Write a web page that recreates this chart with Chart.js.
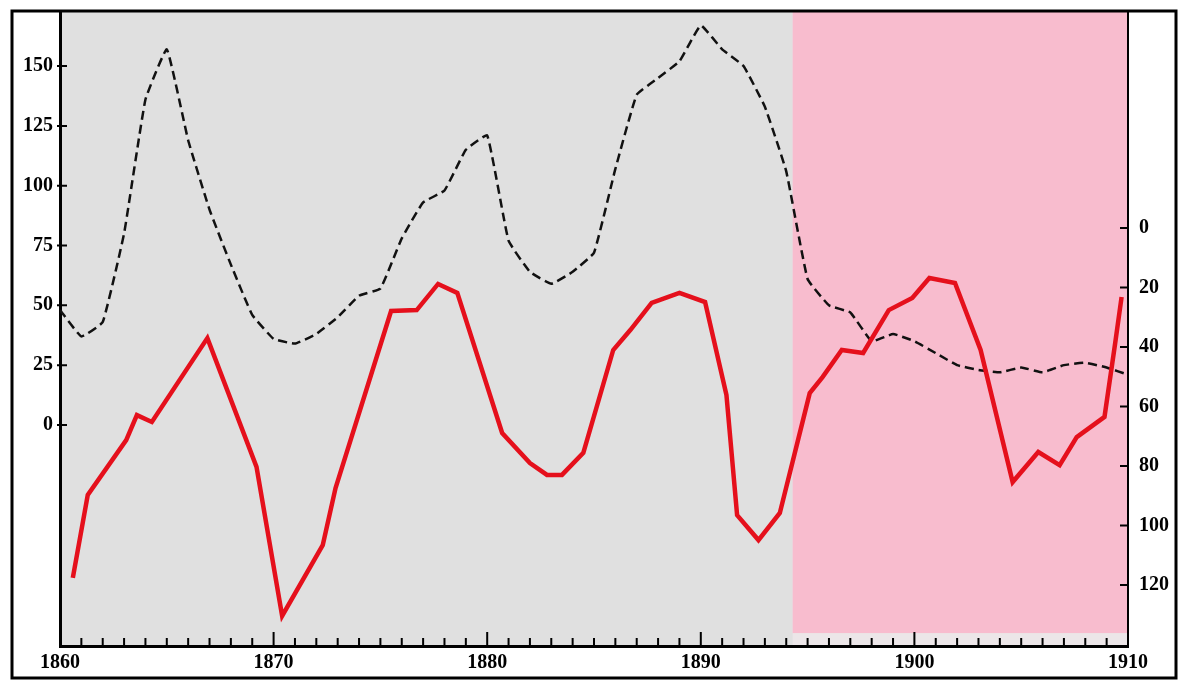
<!DOCTYPE html>
<html>
<head>
<meta charset="utf-8">
<script src="https://cdn.jsdelivr.net/npm/chart.js@4.4.0/dist/chart.umd.min.js"></script>
<style>
  html, body { margin: 0; padding: 0; background: #fff; }
  #wrap { width: 1192px; height: 694px; position: relative; }
</style>
</head>
<body>
<div id="wrap"><canvas id="chart" width="1192" height="694"></canvas></div>
<script>
// dashed black series, left axis, one point per year
const blackYears = [1860, 1861, 1862, 1863, 1864, 1865, 1866, 1867, 1868, 1869,
  1870, 1871, 1872, 1873, 1874, 1875, 1876, 1877, 1878, 1879,
  1880, 1881, 1882, 1883, 1884, 1885, 1886, 1887, 1888, 1889,
  1890, 1891, 1892, 1893, 1894, 1895, 1896, 1897, 1898, 1899,
  1900, 1901, 1902, 1903, 1904, 1905, 1906, 1907, 1908, 1909, 1910];
const blackValues = [48, 37, 43, 80, 136, 157, 119, 90, 67, 46,
  36, 34, 38, 45, 54, 57, 78, 93, 98, 115,
  121, 77, 64, 59, 64, 72, 107, 138, 145, 152,
  167, 157, 150, 133, 106, 61, 50, 47, 35, 38,
  35, 30, 25, 23, 22, 24, 22, 25, 26, 24, 21];

// red series, right (inverted) axis, read at its corners
const redYears = [1860.6, 1861.3, 1863.1, 1863.6, 1864.3, 1866.9, 1869.2, 1870.4, 1872.3, 1872.9,
  1875.5, 1876.7, 1877.7, 1878.6, 1880.7, 1882.0, 1882.8, 1883.5, 1884.5, 1885.9,
  1886.7, 1887.7, 1889.0, 1890.2, 1891.2, 1891.7, 1892.7, 1893.7, 1895.1, 1895.7,
  1896.6, 1897.6, 1898.8, 1899.9, 1900.7, 1901.9, 1903.1, 1904.6, 1905.8, 1906.8,
  1907.6, 1908.9, 1909.4, 1909.7];
const redValues = [117.6, 89.7, 71.3, 62.9, 65.2, 37.0, 80.3, 130.4, 106.6, 87.4,
  27.9, 27.6, 18.8, 21.8, 68.9, 79.0, 83.0, 83.0, 75.6, 41.0,
  34.3, 25.2, 21.8, 24.9, 56.1, 96.5, 104.9, 95.8, 55.5, 50.1,
  41.0, 42.0, 27.6, 23.5, 16.8, 18.5, 41.0, 85.4, 75.3, 79.7,
  70.3, 63.5, 38.7, 23.2];

const leftTicks = [0, 25, 50, 75, 100, 125, 150];
const rightTicks = [0, 20, 40, 60, 80, 100, 120];
const xLabels = [1860, 1870, 1880, 1890, 1900, 1910];
const pinkFrom = 1894.3;

const tickFont = { family: "'Liberation Serif', 'DejaVu Serif', serif", size: 20, weight: "bold" };

// backgrounds, frame and inward tick marks
const decor = {
  id: "decor",
  beforeDraw(chart) {
    const c = chart.ctx, a = chart.chartArea, x = chart.scales.x, yl = chart.scales.yl;
    c.save();
    c.fillStyle = "#fff";
    c.fillRect(0, 0, chart.width, chart.height);
    c.fillStyle = "#e0e0e0";
    c.fillRect(a.left, a.top, a.right - a.left, a.bottom - a.top);
    const px = x.getPixelForValue(pinkFrom);
    c.fillStyle = "#ece6e8";
    c.fillRect(px, a.top, a.right - px, a.bottom - a.top);
    c.fillStyle = "#f8bcce";
    c.fillRect(px, a.top, a.right - px, yl.getPixelForValue(-87) - a.top);
    c.restore();
  },
  afterDraw(chart) {
    const c = chart.ctx, a = chart.chartArea;
    const x = chart.scales.x, yl = chart.scales.yl, yr = chart.scales.yr;
    c.save();
    c.strokeStyle = "#000";
    c.lineWidth = 3;
    c.strokeRect(12, 11, 1164, 667);
    c.lineWidth = 2;
    c.beginPath();
    for (let yr0 = 1860; yr0 <= 1910; yr0++) {
      const p = x.getPixelForValue(yr0);
      const len = yr0 % 10 === 0 ? 14 : 8;
      c.moveTo(p, a.bottom);
      c.lineTo(p, a.bottom - len);
    }
    leftTicks.forEach(v => {
      const p = yl.getPixelForValue(v);
      c.moveTo(a.left - 3, p);
      c.lineTo(a.left + 7, p);
    });
    rightTicks.forEach(v => {
      const p = yr.getPixelForValue(v);
      c.moveTo(a.right - 8, p);
      c.lineTo(a.right, p);
    });
    c.stroke();
    c.restore();
  }
};

// fixed widths and no label overhang padding
const fitY = w => s => { s.width = w; s.paddingTop = 0; s.paddingBottom = 0; };

new Chart(document.getElementById("chart"), {
  type: "line",
  data: {
    datasets: [
      {
        label: "red",
        data: redYears.map((y, i) => ({ x: y, y: redValues[i] })),
        yAxisID: "yr",
        borderColor: "#e5101c",
        borderWidth: 4.5,
        pointRadius: 0,
        tension: 0
      },
      {
        label: "black",
        data: blackYears.map((y, i) => ({ x: y, y: blackValues[i] })),
        yAxisID: "yl",
        borderColor: "#111",
        borderWidth: 2.5,
        borderDash: [9, 5],
        pointRadius: 0,
        tension: 0.1
      }
    ]
  },
  options: {
    responsive: false,
    animation: false,
    layout: { padding: { top: 12, left: 0, right: 0, bottom: 0 } },
    plugins: { legend: { display: false }, tooltip: { enabled: false } },
    scales: {
      x: {
        type: "linear",
        min: 1860,
        max: 1910,
        afterBuildTicks: s => { s.ticks = xLabels.map(v => ({ value: v })); },
        afterFit: s => { s.height = 48; s.paddingLeft = 0; s.paddingRight = 0; },
        ticks: { color: "#000", font: tickFont, padding: 5, maxRotation: 0, autoSkip: false,
          callback: v => String(v) },
        grid: { display: false, drawTicks: false },
        border: { display: true, color: "#000", width: 3 }
      },
      yl: {
        position: "left",
        min: -92.4,
        max: 172.6,
        afterBuildTicks: s => { s.ticks = leftTicks.map(v => ({ value: v })); },
        afterFit: fitY(60),
        ticks: { color: "#000", font: tickFont, padding: 7 },
        grid: { display: false, drawTicks: false },
        border: { display: true, color: "#000", width: 3 }
      },
      yr: {
        position: "right",
        reverse: true,
        min: -72.6,
        max: 140.5,
        afterBuildTicks: s => { s.ticks = rightTicks.map(v => ({ value: v })); },
        afterFit: fitY(1192 - 1128),
        ticks: { color: "#000", font: tickFont, padding: 11 },
        grid: { display: false, drawTicks: false },
        border: { display: true, color: "#000", width: 2 }
      }
    }
  },
  plugins: [decor]
});
</script>
</body>
</html>
